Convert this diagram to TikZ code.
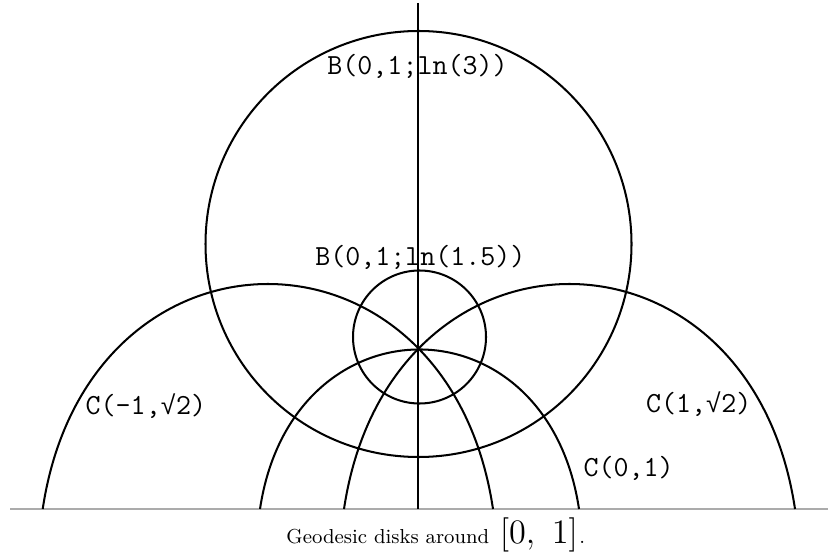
\documentclass[tikz,border=0pt]{standalone}
\usepackage{fontspec}
\newfontfamily\monof{Liberation Mono}
\newcommand{\mysqrt}{\makebox[0.525em]{\monof\fontsize{11}{12}\selectfont √}}
\begin{document}
\begin{tikzpicture}[x=0.42pt,y=-0.42pt,
  curve/.style={line width=0.85pt,black},
  axisline/.style={line width=0.9pt,black!33},
  lbl/.style={inner sep=0pt,anchor=base,font=\ttfamily\fontsize{12.24}{14}\selectfont},
  captext/.style={inner sep=0pt,anchor=base west,font=\fontsize{8.5}{10}\selectfont}]
\useasboundingbox (0,0) rectangle (838,552);
% real axis
\coordinate (axL) at (10,509);
\coordinate (axR) at (828,509);
\draw[axisline] (axL) -- (axR);
% base point (0,1) and vertical geodesic
\coordinate (P) at (418.5,350);
\coordinate (vtop) at (418.3,3);
\coordinate (vbot) at (418.3,509);
\draw[curve,line width=0.95pt] (vtop) -- (vbot);
% geodesic disks
\coordinate (cbig) at (418.5,244);
\coordinate (csmall) at (419.5,337);
\draw[curve] (cbig) circle[radius=89.46pt];
\draw[curve] (csmall) circle[radius=27.93pt];
% geodesics C(0,1), C(-1,sqrt2), C(1,sqrt2)
\coordinate (c0a) at (260,509);
\coordinate (c0b) at (579,509);
\draw[curve] (c0a) .. controls (291.9,296.3) and (547.1,296.3) .. (c0b);
\coordinate (cma) at (42.7,509);
\coordinate (cmb) at (493,509);
\draw[curve] (cma) .. controls (87.7,209) and (448,209) .. (cmb);
\coordinate (cpa) at (344,509);
\coordinate (cpb) at (795,509);
\draw[curve] (cpa) .. controls (389,209) and (750,209) .. (cpb);
% labels
\node[lbl] (lB3) at (417.5,74.5) {B(0,1;ln(3))};
\node[lbl] (lB15) at (420.4,266) {B(0,1;ln(1.5))};
\node[lbl] (lCm) at (145.9,414.3) {C(-1,\mysqrt2)};
\node[lbl] (lCp) at (698.7,412.3) {C(1,\mysqrt2)};
\node[lbl] (lC0) at (628.7,476.7) {C(0,1)};
\node[captext] (caption) at (286,543.3) {Geodesic disks around\hspace{1.5pt} {\fontsize{14}{16}\selectfont$[0,\ 1]$}\hspace{0.6pt}.};
\end{tikzpicture}
\end{document}
